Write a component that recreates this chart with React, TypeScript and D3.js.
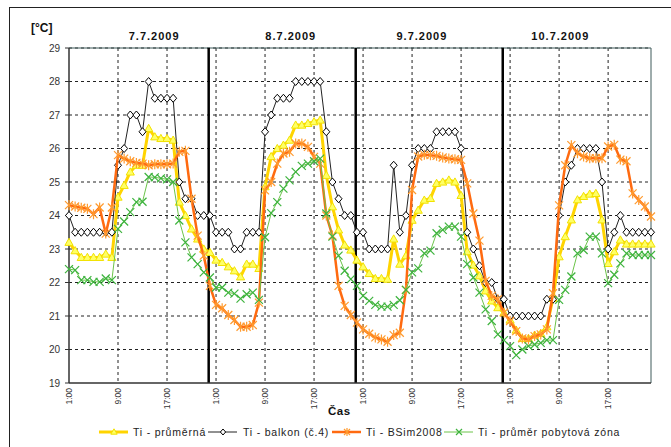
import React from "react";
import * as d3 from "d3";

const days = ["7.7.2009", "8.7.2009", "9.7.2009", "10.7.2009"];
const tickLabels = ["1:00", "9:00", "17:00"];
const yTicks = [19, 20, 21, 22, 23, 24, 25, 26, 27, 28, 29];

const tiPrumerna = [
  23.2, 22.95, 22.75, 22.75, 22.75, 22.75, 22.85, 22.75, 24.55, 24.9, 25.3, 25.5, 25.5, 26.6, 26.35, 26.3, 26.3, 26.25, 24.4, 24.0, 23.6, 23.3, 23.0, 22.9,
  22.67, 22.6, 22.47, 22.35, 22.17, 22.55, 22.55, 22.42, 24.86, 25.76, 26.0, 26.1, 26.25, 26.7, 26.7, 26.75, 26.8, 26.85, 25.2, 24.26, 23.57, 23.12, 22.97, 22.67,
  22.47, 22.27, 22.12, 22.12, 22.1, 23.3, 22.55, 22.8, 23.86, 24.16, 24.46, 24.51, 24.96, 25.0, 25.06, 25.0, 24.6, 22.92, 22.52, 22.2, 21.75, 21.45, 21.25, 21.1,
  20.88, 20.58, 20.33, 20.33, 20.43, 20.48, 20.68, 21.53, 22.77, 23.37, 23.87, 24.47, 24.57, 24.64, 24.66, 23.87, 22.57, 22.92, 23.27, 23.15, 23.15, 23.15, 23.15, 23.15,
];

const tiBalkon = [
  24, 23.5, 23.5, 23.5, 23.5, 23.5, 23.5, 23.5, 25.5, 26, 27, 27, 26.5, 28, 27.5, 27.5, 27.5, 27.5, 25, 24.5, 24.5, 24, 24, 24,
  23.5, 23.5, 23.5, 23, 23, 23.5, 23.5, 23.5, 26.5, 27, 27.5, 27.5, 27.5, 28, 28, 28, 28, 28, 26.5, 25, 24.5, 24, 24, 23.5,
  23.5, 23, 23, 23, 23, 25.5, 23.5, 24, 25.5, 26, 26, 26, 26.5, 26.5, 26.5, 26.5, 26, 23.5, 23, 22.5, 22, 22, 21.5, 21.5,
  21, 21, 21, 21, 21, 21, 21.5, 21.5, 24, 25, 25.5, 26, 26, 26, 26, 25, 23, 23.5, 24, 23.5, 23.5, 23.5, 23.5, 23.5,
];

const tiBSim = [
  24.31, 24.27, 24.23, 24.2, 24.04, 24.24, 23.46, 24.24, 25.8, 25.7, 25.62, 25.57, 25.55, 25.5, 25.53, 25.53, 25.53, 25.55, 25.9, 25.93, 24.5, 23.4, 22.8, 21.9,
  21.33, 21.23, 21.03, 20.88, 20.68, 20.68, 20.73, 21.4, 24.75, 25.0, 25.55, 25.85, 25.9, 26.15, 26.15, 26.05, 25.75, 25.55, 24.0, 23.4, 21.9, 21.3, 21.03, 20.8,
  20.6, 20.47, 20.36, 20.3, 20.23, 20.43, 20.5, 21.78, 24.76, 25.76, 25.81, 25.8, 25.78, 25.73, 25.7, 25.68, 25.66, 24.96, 24.06, 23.25, 22.05, 21.6, 21.5, 21.1,
  20.85, 20.55, 20.33, 20.3, 20.4, 20.45, 20.6, 21.68, 24.3, 25.5, 26.1, 25.86, 25.76, 25.71, 25.71, 25.71, 26.06, 26.11, 25.67, 25.62, 24.66, 24.46, 24.27, 23.97,
];

const tiPobyt = [
  22.4, 22.37, 22.07, 22.07, 22.02, 22.02, 22.12, 22.07, 23.6, 23.82, 24.1, 24.4, 24.41, 25.15, 25.14, 25.11, 25.08, 25.0, 23.85, 23.2, 22.75, 22.55, 22.3, 22.15,
  21.85, 21.85, 21.7, 21.67, 21.52, 21.65, 21.7, 21.48, 23.35, 24.07, 24.4, 24.8, 25.05, 25.3, 25.48, 25.55, 25.62, 25.7, 24.06, 23.37, 22.8, 22.35, 22.1, 21.9,
  21.6, 21.45, 21.33, 21.28, 21.28, 21.33, 21.47, 21.78, 22.3, 22.42, 22.87, 22.95, 23.47, 23.57, 23.67, 23.67, 23.37, 22.55, 22.15, 21.7, 21.2, 20.85, 20.45, 20.28,
  20.1, 19.83, 20.0, 20.1, 20.15, 20.2, 20.28, 20.28, 21.48, 21.78, 22.18, 22.87, 22.97, 23.37, 23.37, 22.87, 21.98, 22.23, 22.57, 22.87, 22.82, 22.82, 22.82, 22.82,
];

const seriesNames = ["Ti - průměrná", "Ti - balkon (č.4)", "Ti - BSim2008", "Ti - průměr pobytová zóna"];

const W = 671;
const H = 447;
const PL = 69, PR = 651, PT = 48, PB = 383;
const HOURS_PER_DAY = 24;
const TICK_STEP = 8;
const FONT = "Arial, 'Liberation Sans', sans-serif";

const x = d3.scaleLinear().domain([0, 95]).range([PL, PR]);
const y = d3.scaleLinear().domain([19, 29]).range([PB, PT]);

type MarkerKind = "triangle" | "diamond" | "asterisk" | "cross";

function Marker({ kind, cx, cy, k = 1 }: { kind: MarkerKind; cx: number; cy: number; k?: number }) {
  if (kind === "triangle") {
    const s = 3.6 * k;
    return (
      <path
        d={`M${cx},${cy - s - 0.5}L${cx + s + 0.5},${cy + s - 0.5}L${cx - s - 0.5},${cy + s - 0.5}Z`}
        fill="#FFFF66"
        stroke="#F2E200"
        strokeWidth={1}
      />
    );
  }
  if (kind === "diamond") {
    return (
      <path
        d={`M${cx},${cy - 4 * k}L${cx + 3.5 * k},${cy}L${cx},${cy + 4 * k}L${cx - 3.5 * k},${cy}Z`}
        fill="#fff"
        stroke="#000"
        strokeWidth={1}
      />
    );
  }
  if (kind === "asterisk") {
    const s = 4 * k;
    return (
      <path
        d={`M${cx - s},${cy - s}L${cx + s},${cy + s}M${cx - s},${cy + s}L${cx + s},${cy - s}M${cx},${cy - s - 1}L${cx},${cy + s + 1}`}
        stroke="#FF9A2E"
        strokeWidth={1.2}
        fill="none"
      />
    );
  }
  const s = 4 * k;
  return (
    <path
      d={`M${cx - s},${cy - s}L${cx + s},${cy + s}M${cx - s},${cy + s}L${cx + s},${cy - s}`}
      stroke="#3DB33D"
      strokeWidth={1.2}
      fill="none"
    />
  );
}

const seriesDefs: { data: number[]; color: string; width: number; marker: MarkerKind }[] = [
  { data: tiPrumerna, color: "#FFD400", width: 3, marker: "triangle" },
  { data: tiBalkon, color: "#222", width: 1, marker: "diamond" },
  { data: tiBSim, color: "#FF6A10", width: 2.5, marker: "asterisk" },
  { data: tiPobyt, color: "#6CC44A", width: 1, marker: "cross" },
];

const line = d3
  .line<number>()
  .x((_, i) => x(i))
  .y((d) => y(d));

export default function App() {
  const nPts = tiBalkon.length;
  const tickIdx = d3.range(0, nPts, TICK_STEP);
  const gridY = yTicks.filter((t) => t !== 19);
  const separators = [1, 2, 3].map((k) => k * HOURS_PER_DAY - 1.2);
  const dayCenters = [13.9, 36.2, 57.6, 80.2];

  const legendItems = [
    { x0: 99, tx: 133 },
    { x0: 208, tx: 243 },
    { x0: 332, tx: 366 },
    { x0: 444, tx: 478 },
  ];
  const LY = 432;

  return (
    <svg
      width={W}
      height={H}
      style={{ position: "absolute", left: 0, top: 0, background: "#fff" }}
      fontFamily={FONT}
    >
      <rect x={0} y={0} width={W} height={H} fill="#fff" />
      <rect x={9.5} y={7.5} width={W + 20} height={H + 20} fill="none" stroke="#222" strokeWidth={1} />

      {/* gridlines */}
      {gridY.map((t) => (
        <line key={"gy" + t} x1={PL} x2={PR} y1={y(t)} y2={y(t)} stroke="#222" strokeWidth={1} strokeDasharray="3,3" />
      ))}
      {tickIdx
        .filter((i) => i !== 0)
        .map((i) => (
          <line key={"gx" + i} x1={x(i)} x2={x(i)} y1={PT} y2={PB} stroke="#222" strokeWidth={1} strokeDasharray="3,3" />
        ))}

      {/* plot border top/right */}
      <line x1={PL} x2={PR} y1={PT} y2={PT} stroke="#3f5a5a" strokeWidth={1} />
      <line x1={PR} x2={PR} y1={PT} y2={PB} stroke="#3f5a5a" strokeWidth={1} />

      {/* day separators */}
      {separators.map((s, k) => (
        <line key={"sep" + k} x1={x(s)} x2={x(s)} y1={PT} y2={PB} stroke="#000" strokeWidth={2.5} />
      ))}

      {/* axes */}
      <line x1={PL} x2={PL} y1={PT} y2={PB} stroke="#333" strokeWidth={1.5} />
      <line x1={PL} x2={PR} y1={PB} y2={PB} stroke="#333" strokeWidth={1.5} />
      {yTicks.map((t) => (
        <g key={"yt" + t}>
          <line x1={PL - 4} x2={PL} y1={y(t)} y2={y(t)} stroke="#333" />
          <text x={PL - 9} y={y(t) + 3.5} textAnchor="end" fontSize={10} fill="#333">
            {t}
          </text>
        </g>
      ))}
      {tickIdx.map((i, k) => (
        <text
          key={"xt" + i}
          transform={`translate(${x(i) + 3},${PB + 5}) rotate(-90)`}
          textAnchor="end"
          fontSize={8.5}
          fill="#333"
        >
          {tickLabels[k % tickLabels.length]}
        </text>
      ))}

      {/* series */}
      {seriesDefs.map((s, si) => (
        <g key={"s" + si}>
          <path d={line(s.data) || ""} fill="none" stroke={s.color} strokeWidth={s.width} strokeLinejoin="round" />
          {s.data.map((v, i) => (
            <Marker key={i} kind={s.marker} cx={x(i)} cy={y(v)} />
          ))}
        </g>
      ))}

      {/* titles */}
      <text x={31} y={32} fontSize={12} fontWeight="bold" fill="#111">
        [°C]
      </text>
      {days.map((d, k) => (
        <text
          key={d}
          x={x(dayCenters[k])}
          y={40}
          textAnchor="middle"
          fontSize={11}
          fontWeight="bold"
          fill="#111"
          letterSpacing={1}
        >
          {d}
        </text>
      ))}
      <text x={328} y={415} fontSize={11.5} fontWeight="bold" fill="#111" letterSpacing={0.5}>
        Čas
      </text>

      {/* legend */}
      {seriesDefs.map((s, k) => (
        <g key={"lg" + k}>
          <line x1={legendItems[k].x0} x2={legendItems[k].x0 + 29} y1={LY} y2={LY} stroke={s.color} strokeWidth={s.width} />
          <Marker kind={s.marker} cx={legendItems[k].x0 + 15} cy={LY} k={0.75} />
          <text x={legendItems[k].tx} y={LY + 4} fontSize={10.5} fill="#222" letterSpacing={0.8}>
            {seriesNames[k]}
          </text>
        </g>
      ))}
    </svg>
  );
}
